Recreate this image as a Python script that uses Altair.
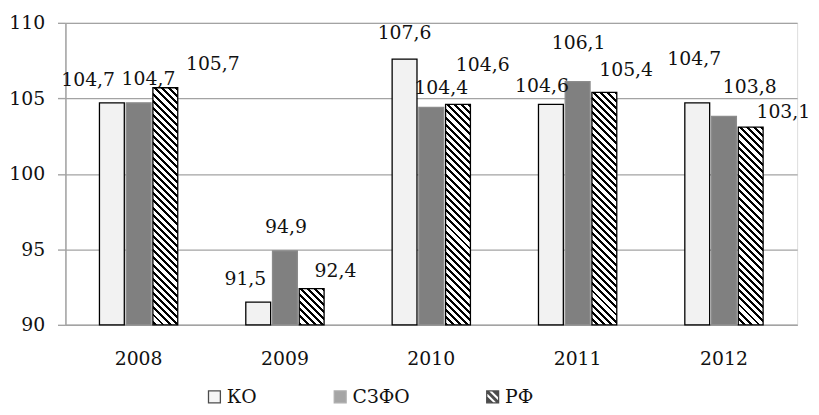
import math
import altair as alt
import pandas as pd

# ---------------- data ----------------
years = ["2008", "2009", "2010", "2011", "2012"]
series = ["КО", "СЗФО", "РФ"]
ko_values = [104.7, 91.5, 107.6, 104.6, 104.7]
szfo_values = [104.7, 94.9, 104.4, 106.1, 103.8]
rf_values = [105.7, 92.4, 104.6, 105.4, 103.1]
y_ticks = [90, 95, 100, 105, 110]

# label nudges in px relative to each bar's top (manual label placement, as in the reference)
ko_nudge = [(-24, -23), (-13, -23), (0, -26), (-9, -18), (-3, -44)]
szfo_nudge = [(10, -24), (1, -24), (10, -20), (1, -39), (26, -30)]
rf_nudge = [(48, -24), (24, -18), (25, -40), (22, -22), (33, -15)]

# ---------------- layout / style ----------------
FONT = "DejaVu Serif"
FS = 19
PLOT_W, PLOT_H = 739, 305
Y_MIN, Y_MAX = 90, 110
PAD_IN, PAD_OUT = 0.465, 0.2325
OFF_PAD = 0.07
GRID = "#a3a3a3"

step = PLOT_W / (len(years) - PAD_IN + 2 * PAD_OUT)
band = step * (1 - PAD_IN)
bar_w = band / (len(series) - OFF_PAD) * (1 - OFF_PAD)


def hatch_gradient(w, h, period=7.2, black=3.0):
    """Diagonal '\\' hatch as a hard-stop linear gradient in bbox units."""
    c = (w + h) / (w * w + h * h)
    total = w + h
    stops = [{"offset": 0, "color": "white"}]
    k = int(math.floor(-h / period)) - 1
    while k * period < w + period:
        g0 = k * period
        g1 = g0 + black
        t0 = (g0 + h) / total
        t1 = (g1 + h) / total
        if t1 > 0 and t0 < 1:
            t0 = round(max(t0, 0.0), 5)
            t1 = round(min(t1, 1.0), 5)
            stops += [
                {"offset": t0, "color": "white"},
                {"offset": t0, "color": "black"},
                {"offset": t1, "color": "black"},
                {"offset": t1, "color": "white"},
            ]
        k += 1
    stops.append({"offset": 1, "color": "white"})
    return {"gradient": "linear", "x1": 0, "y1": 1,
            "x2": round(c * w, 6), "y2": round(1 - c * h, 6), "stops": stops}


# legend symbol for РФ: black square with two white diagonal holes
RF_SYMBOL = ("M-1,-1L1,-1L1,1L-1,1Z"
             "M1,0.8L1,0L0,-1L-0.8,-1Z"
             "M-1,0L0,1L0.8,1L-1,-0.8Z")

# ---------------- table ----------------
rows = []
for name, vals, nudges in [("КО", ko_values, ko_nudge),
                           ("СЗФО", szfo_values, szfo_nudge),
                           ("РФ", rf_values, rf_nudge)]:
    for yr, v, (ndx, ndy) in zip(years, vals, nudges):
        rows.append({"year": yr, "series": name, "value": v,
                     "label": f"{v:.1f}".replace(".", ","),
                     "ldx": ndx, "ldy": ndy})
df = pd.DataFrame(rows)

hatch_conditions = []
for yr, v in zip(years, rf_values):
    h = (v - Y_MIN) / (Y_MAX - Y_MIN) * PLOT_H
    hatch_conditions.append({
        "test": f"datum.year === '{yr}' && datum.series === 'РФ'",
        "value": hatch_gradient(bar_w, h),
    })

x_enc = alt.X("year:N", sort=years,
              scale=alt.Scale(paddingInner=PAD_IN, paddingOuter=PAD_OUT),
              axis=alt.Axis(title=None, labelAngle=0, ticks=False, labelPadding=25,
                            domainColor=GRID, domainWidth=1.5, grid=False,
                            labelFont=FONT, labelFontSize=FS, labelColor="#111"))
xo_enc = alt.XOffset("series:N", sort=series,
                     scale=alt.Scale(domain=series, paddingInner=OFF_PAD, paddingOuter=0))
y_enc = alt.Y("value:Q",
              scale=alt.Scale(domain=[Y_MIN, Y_MAX], nice=False, zero=False),
              axis=alt.Axis(title=None, values=y_ticks, format="d", grid=True,
                            gridColor=GRID, gridWidth=1.4, domainColor=GRID, domainWidth=1.5,
                            tickColor=GRID, tickWidth=1.4, tickSize=8, labelPadding=13,
                            labelFont=FONT, labelFontSize=FS, labelColor="#111"))

legend = alt.Legend(
    title=None, orient="none", direction="horizontal",
    legendX=141, legendY=368,
    labelFont=FONT, labelFontSize=FS, labelColor="#111", labelOffset=3,
    symbolSize=144, symbolStrokeWidth=1.3,
    columnPadding=74,
)

fill_scale = alt.Scale(domain=series, range=["#f2f2f2", "#808080", "black"])
stroke_scale = alt.Scale(domain=series, range=["black", "#8c8c8c", "black"])
shape_scale = alt.Scale(domain=series, range=["square", "square", RF_SYMBOL])

bars = alt.Chart(df).mark_bar(strokeWidth=1.3).encode(
    x=x_enc,
    xOffset=xo_enc,
    y=y_enc,
    y2=alt.datum(Y_MIN),
    fill=alt.Fill("series:N", sort=series, scale=fill_scale, legend=legend,
                  condition=hatch_conditions),
    stroke=alt.Stroke("series:N", sort=series, scale=stroke_scale, legend=legend),
)

# empty layer that only contributes the legend symbol shapes
legend_proxy = alt.Chart(df).transform_filter("false").mark_point(filled=True).encode(
    x=alt.X("year:N", sort=years),
    y=alt.Y("value:Q"),
    fill=alt.Fill("series:N", sort=series, scale=fill_scale, legend=legend),
    stroke=alt.Stroke("series:N", sort=series, scale=stroke_scale, legend=legend),
    shape=alt.Shape("series:N", sort=series, scale=shape_scale, legend=legend),
)

labels = alt.Chart(df).mark_text(
    font=FONT, fontSize=FS, color="#111", align="center", baseline="middle",
    dx=alt.ExprRef("datum.ldx"), dy=alt.ExprRef("datum.ldy"),
).encode(
    x=alt.X("year:N", sort=years),
    xOffset=alt.XOffset("series:N", sort=series),
    y=alt.Y("value:Q"),
    text="label:N",
)

chart = alt.layer(bars, labels, legend_proxy).properties(
    width=PLOT_W, height=PLOT_H,
    autosize=alt.AutoSizeParams(type="none"),
    padding={"left": 58, "top": 13, "right": 14, "bottom": 81},
).configure_view(stroke="transparent").configure(background="white", font=FONT)

chart.save("out.html", embed_options={"renderer": "svg", "actions": False})
